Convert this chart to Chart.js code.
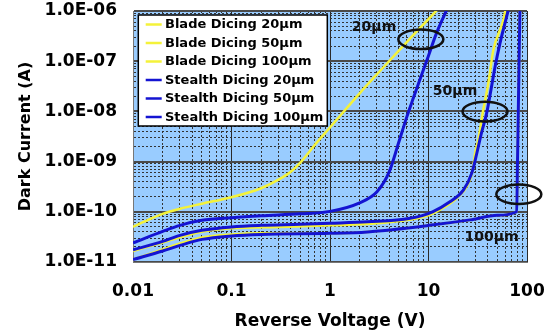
<!DOCTYPE html>
<html><head><meta charset="utf-8">
<script src="https://cdn.jsdelivr.net/npm/chart.js@4.4.0/dist/chart.umd.min.js"></script>
<style>html,body{margin:0;padding:0;background:#fff}canvas{display:block}</style>
</head><body>
<canvas id="c" width="546" height="334"></canvas>
<script>
// ---- data ----
const seriesLabels = ['Blade Dicing 20μm', 'Blade Dicing 50μm', 'Blade Dicing 100μm',
                      'Stealth Dicing 20μm', 'Stealth Dicing 50μm', 'Stealth Dicing 100μm'];

const blade20V = [0.01, 0.015, 0.02, 0.03, 0.05, 0.1, 0.2, 0.3, 0.4, 0.5, 0.7, 1, 2, 3, 5, 7, 10, 12.5];
const blade20I = [5.0e-11, 7.2e-11, 9.1e-11, 1.15e-10, 1.45e-10, 1.95e-10, 2.95e-10, 4.37e-10, 6.3e-10, 9.55e-10, 2.14e-9, 4.79e-9, 2.29e-8, 5.5e-8, 1.62e-7, 3.31e-7, 6.9e-7, 1.1e-6];

const blade50V = [0.01, 0.02, 0.05, 0.1, 0.3, 1, 3, 10, 15, 19.3, 24.4, 28.1, 29.7, 32, 35.5, 40.5, 45.5, 57.5, 60.5];
const blade50I = [1.66e-11, 2.45e-11, 3.98e-11, 4.68e-11, 5.0e-11, 5.37e-11, 5.89e-11, 8.5e-11, 1.29e-10, 1.86e-10, 3.16e-10, 6.76e-10, 1.45e-9, 2.69e-9, 9.33e-9, 3.63e-8, 1.66e-7, 6.6e-7, 1.05e-6];

const blade100V = [0.01, 0.02, 0.03, 0.05, 0.1, 0.2, 1, 2.4, 11.2, 26.4, 50, 78.6, 80.1, 81.6, 83.1, 84.7];
const blade100I = [1.12e-11, 1.78e-11, 2.34e-11, 3.09e-11, 3.55e-11, 3.72e-11, 3.72e-11, 3.98e-11, 5.5e-11, 6.9e-11, 8.5e-11, 1.0e-10, 1.0e-9, 1.0e-8, 1.0e-7, 1.0e-6];

const stealth20V = [0.01, 0.02, 0.03, 0.05, 0.1, 0.2, 0.5, 1, 2, 3, 4, 5, 6, 7, 8, 10, 12, 15.3];
const stealth20I = [2.4e-11, 4.07e-11, 5.37e-11, 6.76e-11, 7.6e-11, 8.3e-11, 9.1e-11, 1.02e-10, 1.51e-10, 2.5e-10, 6.3e-10, 2.45e-9, 7.6e-9, 1.82e-8, 3.8e-8, 1.29e-7, 3.55e-7, 1.05e-6];

const stealth50V = [0.01, 0.02, 0.03, 0.05, 0.1, 0.2, 0.5, 1, 2.4, 6.5, 11, 16.5, 22.6, 27.5, 30.9, 34.1, 39, 43.1, 47.3, 53.2, 64.6];
const stealth50I = [1.74e-11, 2.57e-11, 3.39e-11, 4.27e-11, 5.0e-11, 5.37e-11, 5.62e-11, 5.89e-11, 6.31e-11, 7.41e-11, 1.0e-10, 1.58e-10, 2.69e-10, 5.89e-10, 1.45e-9, 3.39e-9, 9.33e-9, 2.69e-8, 7.59e-8, 2.29e-7, 1.05e-6];

const stealth100V = [0.01, 0.02, 0.03, 0.05, 0.1, 0.2, 1, 2.4, 11.2, 26.4, 50, 78.6, 80.1, 81.6, 83.1, 84.7];
const stealth100I = [1.12e-11, 1.66e-11, 2.14e-11, 2.82e-11, 3.31e-11, 3.55e-11, 3.72e-11, 3.98e-11, 5.5e-11, 6.9e-11, 8.5e-11, 1.0e-10, 1.0e-9, 1.0e-8, 1.0e-7, 1.0e-6];

const xDecades = [0.01, 0.1, 1, 10, 100];
const xTickLabels = ['0.01', '0.1', '1', '10', '100'];
const yDecades = [1e-11, 1e-10, 1e-9, 1e-8, 1e-7, 1e-6];
const yTickLabels = ['1.0E-11', '1.0E-10', '1.0E-09', '1.0E-08', '1.0E-07', '1.0E-06'];

const noteLabels = ['20μm', '50μm', '100μm'];
const noteV = [2.8, 18.6, 43.6];
const noteI = [4.8e-7, 2.55e-8, 3.15e-11];
const ringV = [8.36, 37.5, 82.6];
const ringI = [2.73e-7, 9.9e-9, 2.24e-10];

// ---- build ----
const FONT = "'DejaVu Sans', Verdana, sans-serif";
const YELLOW = '#f4f23a';
const BLUE = '#1414d2';
const pts = (xs, ys) => xs.map((x, i) => ({x, y: ys[i]}));
const seriesV = [blade20V, blade50V, blade100V, stealth20V, stealth50V, stealth100V];
const seriesI = [blade20I, blade50I, blade100I, stealth20I, stealth50I, stealth100I];
const isDecade = v => Math.abs(Math.log10(v) - Math.round(Math.log10(v))) < 1e-6;
const isMajorCtx = c => c.tick && isDecade(c.tick.value);

function decadeTicks(decades) {
  const t = [];
  decades.forEach((d, i) => {
    if (i === decades.length - 1) { t.push({value: d}); return; }
    for (let m = 1; m <= 9; m++) t.push({value: m * d});
  });
  return t;
}
function labelFor(decades, labels, v) {
  const i = decades.findIndex(d => Math.abs(d - v) / d < 1e-6);
  return i >= 0 ? labels[i] : '';
}

const datasets = seriesLabels.map((label, k) => {
  const blade = k < 3;
  return {
    label,
    data: pts(seriesV[k], seriesI[k]),
    borderColor: blade ? YELLOW : BLUE,
    backgroundColor: blade ? YELLOW : BLUE,
    borderWidth: blade ? 2.5 : 3,
    pointRadius: 0,
    fill: false,
    cubicInterpolationMode: 'monotone',
    order: blade ? 1 : 0
  };
});

const bgPlugin = {
  id: 'bg',
  beforeDraw(chart) {
    const {ctx, chartArea: a} = chart;
    ctx.save();
    ctx.fillStyle = '#ffffff';
    ctx.fillRect(0, 0, chart.width, chart.height);
    ctx.fillStyle = '#99ccff';
    ctx.fillRect(a.left, a.top, a.right - a.left, a.bottom - a.top);
    ctx.restore();
  }
};

const notesPlugin = {
  id: 'notes',
  afterDatasetsDraw(chart) {
    const {ctx, chartArea: a, scales: {x, y}} = chart;
    ctx.save();
    ctx.strokeStyle = '#111';
    ctx.lineWidth = 2.5;
    ringV.forEach((v, i) => {
      ctx.beginPath();
      ctx.ellipse(x.getPixelForValue(v), y.getPixelForValue(ringI[i]), 22.5, 9.8, 0, 0, Math.PI * 2);
      ctx.stroke();
    });
    ctx.fillStyle = '#111';
    ctx.font = 'bold 14px ' + FONT;
    ctx.textAlign = 'center';
    ctx.textBaseline = 'middle';
    noteLabels.forEach((t, i) => {
      ctx.fillText(t, x.getPixelForValue(noteV[i]), y.getPixelForValue(noteI[i]));
    });
    const bx = a.left + 5.3, by = a.top + 4, bw = 189, bh = 111;
    ctx.fillStyle = '#ffffff';
    ctx.fillRect(bx, by, bw, bh);
    ctx.strokeStyle = '#000';
    ctx.lineWidth = 1.5;
    ctx.strokeRect(bx, by, bw, bh);
    ctx.font = 'bold 13px ' + FONT;
    ctx.textAlign = 'left';
    ctx.textBaseline = 'middle';
    chart.data.datasets.forEach((ds, i) => {
      const cy = by + 9.5 + i * 18.5;
      ctx.strokeStyle = ds.borderColor;
      ctx.lineWidth = 2.5;
      ctx.beginPath();
      ctx.moveTo(bx + 7.4, cy);
      ctx.lineTo(bx + 23.4, cy);
      ctx.stroke();
      ctx.fillStyle = '#000';
      ctx.fillText(ds.label, bx + 26.7, cy + 0.5);
    });
    ctx.restore();
  }
};

new Chart(document.getElementById('c'), {
  type: 'line',
  data: {datasets},
  options: {
    responsive: false,
    animation: false,
    devicePixelRatio: 1,
    layout: {padding: {left: 0, right: 19, top: 11, bottom: 0}},
    plugins: {legend: {display: false}, tooltip: {enabled: false}},
    scales: {
      x: {
        type: 'logarithmic',
        min: 0.01, max: 100,
        afterBuildTicks: s => { s.ticks = decadeTicks(xDecades); },
        afterFit: s => { s.height = 72; s.paddingLeft = 0; s.paddingRight = 0; },
        ticks: {
          autoSkip: false, maxRotation: 0, padding: 19, color: '#000',
          font: {family: FONT, size: 17, weight: 'bold'},
          callback: v => labelFor(xDecades, xTickLabels, v)
        },
        grid: {
          drawTicks: false,
          color: c => isMajorCtx(c) ? '#2a2a2a' : '#333',
          lineWidth: 1
        },
        border: {display: true, color: '#777', width: 1, dash: c => (c.tick && !isDecade(c.tick.value)) ? [2, 2] : []},
        title: {display: true, text: 'Reverse Voltage (V)', color: '#000',
                font: {family: FONT, size: 17, weight: 'bold'}, padding: {top: 0, bottom: 2}}
      },
      y: {
        type: 'logarithmic',
        min: 1e-11, max: 1e-6,
        afterBuildTicks: s => { s.ticks = decadeTicks(yDecades); },
        afterFit: s => { s.width = 133; s.paddingTop = 0; s.paddingBottom = 0; },
        ticks: {
          autoSkip: false, padding: 16, color: '#000',
          font: {family: FONT, size: 17, weight: 'bold'},
          callback: v => labelFor(yDecades, yTickLabels, v)
        },
        grid: {
          drawTicks: false,
          color: c => isMajorCtx(c) ? '#4a4a4a' : '#333',
          lineWidth: c => isMajorCtx(c) ? 2 : 1
        },
        border: {display: true, color: '#777', width: 1, dash: c => (c.tick && !isDecade(c.tick.value)) ? [2, 2] : []},
        title: {display: true, text: 'Dark Current (A)', color: '#000',
                font: {family: FONT, size: 16, weight: 'bold'}, padding: {top: 16, bottom: 0}}
      }
    }
  },
  plugins: [bgPlugin, notesPlugin]
});
</script>
</body></html>
